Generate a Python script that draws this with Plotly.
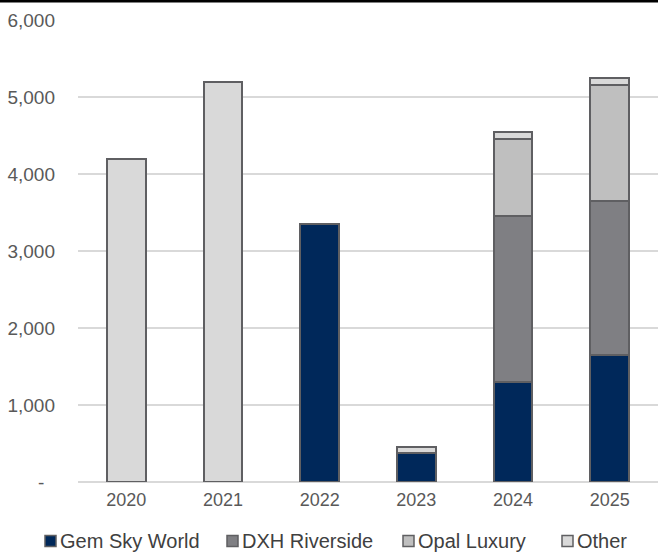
import plotly.graph_objects as go

years = ["2020", "2021", "2022", "2023", "2024", "2025"]
gem_sky_world = [0, 0, 3350, 380, 1300, 1650]
dxh_riverside = [0, 0, 0, 0, 2150, 2000]
opal_luxury = [0, 0, 0, 0, 1000, 1500]
other = [4200, 5200, 0, 80, 100, 100]

y_ticks = [0, 1000, 2000, 3000, 4000, 5000, 6000]
y_tick_labels = ["-\u00a0\u00a0", "1,000", "2,000", "3,000", "4,000", "5,000", "6,000"]

series = [
    ("Gem Sky World", gem_sky_world, "#00285a"),
    ("DXH Riverside", dxh_riverside, "#7f7f83"),
    ("Opal Luxury", opal_luxury, "#bfbfbf"),
    ("Other", other, "#d9d9d9"),
]
# legend marker left edges in pixels (layout only)
legend_px = [45, 227, 403, 562]

W, H = 658, 553
ml, mr, mt, mb = 78, 0, 20, 71
pw = W - ml - mr
ph = H - mt - mb

def px_x(p):
    return (p - ml) / pw

def px_y(p):
    return (H - mb - p) / ph

fig = go.Figure()
shapes = []
annotations = []
for (name, vals, col), lx in zip(series, legend_px):
    fig.add_trace(go.Bar(
        x=years, y=[v if v else None for v in vals], name=name,
        marker=dict(color=col, line=dict(color="#5f5f62", width=2)),
        showlegend=False,
    ))
    cy = 541
    shapes.append(dict(type="rect", xref="paper", yref="paper",
                       x0=px_x(lx), x1=px_x(lx + 11), y0=px_y(cy + 5.5), y1=px_y(cy - 5.5),
                       fillcolor=col, line=dict(color="#5f5f62", width=1.5)))
    annotations.append(dict(xref="paper", yref="paper", x=px_x(lx + 13), y=px_y(cy),
                            xanchor="left", yanchor="middle", showarrow=False, text=name,
                            font=dict(size=20, color="#404040")))

shapes.append(dict(type="rect", xref="paper", yref="paper",
                   x0=-ml / pw, x1=1.0, y0=1 + (mt - 2.5) / ph, y1=1 + mt / ph + 0.01,
                   fillcolor="black", line=dict(width=0), layer="above"))

fig.update_layout(
    width=W, height=H,
    barmode="stack", bargap=0.6,
    margin=dict(l=ml, r=mr, t=mt, b=mb, pad=0, autoexpand=False),
    plot_bgcolor="white", paper_bgcolor="white",
    font=dict(family="Liberation Sans, Arial, sans-serif", size=19, color="#595959"),
    showlegend=False,
    xaxis=dict(showgrid=False, showline=False, ticks="", tickfont=dict(size=18),
               ticklabelstandoff=5),
    yaxis=dict(range=[0, 6000], tickvals=y_ticks, ticktext=y_tick_labels,
               showgrid=True, gridcolor="#d9d9d9", gridwidth=2,
               zeroline=True, zerolinecolor="#d9d9d9", zerolinewidth=2,
               ticks="", ticklabelstandoff=22, tickfont=dict(size=19)),
    shapes=shapes,
    annotations=annotations,
)

fig.write_html("out.html")
